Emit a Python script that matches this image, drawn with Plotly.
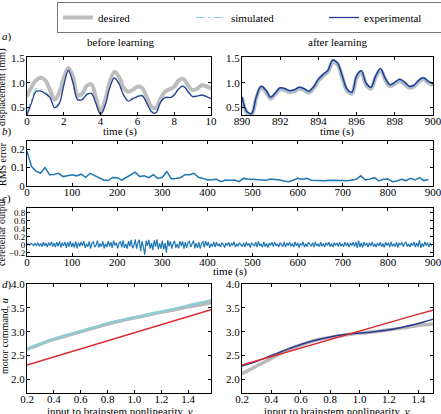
import numpy as np
import plotly.graph_objects as go

# ---------------- data ----------------
t_before = [0, 0.25, 0.5, 0.75, 1.0, 1.25, 1.5, 1.75, 2.0, 2.25, 2.5, 2.75, 3.0, 3.25, 3.5, 3.75,
            4.0, 4.25, 4.5, 4.75, 5.0, 5.25, 5.5, 5.75, 6.0, 6.25, 6.5, 6.75, 7.0, 7.25, 7.5, 7.75,
            8.0, 8.25, 8.5, 8.75, 9.0, 9.25, 9.5, 9.75, 10.0]
desired_before = [0.72, 0.92, 1.05, 1.10, 1.05, 0.85, 0.66, 0.80, 1.10, 1.30, 1.12, 0.75, 0.78, 0.94,
                  0.97, 0.70, 0.42, 0.65, 1.02, 1.22, 1.12, 0.90, 0.82, 0.86, 0.92, 0.90, 0.72, 0.52,
                  0.49, 0.68, 0.82, 0.87, 0.92, 1.05, 1.08, 0.95, 0.85, 0.88, 0.95, 0.93, 0.88]
simulated_before = [0.40, 0.66, 0.88, 0.87, 0.82, 0.72, 0.52, 0.60, 0.97, 1.24, 1.02, 0.69, 0.68, 0.78,
                    0.80, 0.60, 0.39, 0.57, 0.92, 1.09, 0.99, 0.77, 0.65, 0.69, 0.73, 0.75, 0.62, 0.44,
                    0.41, 0.61, 0.71, 0.72, 0.77, 0.89, 0.94, 0.84, 0.74, 0.74, 0.76, 0.73, 0.69]
experimental_before = [0.35, 0.60, 0.83, 0.83, 0.78, 0.70, 0.50, 0.58, 0.95, 1.25, 1.00, 0.66, 0.66, 0.76,
                       0.78, 0.58, 0.36, 0.55, 0.90, 1.10, 0.98, 0.75, 0.63, 0.68, 0.72, 0.74, 0.60, 0.42,
                       0.39, 0.60, 0.70, 0.70, 0.75, 0.88, 0.93, 0.82, 0.72, 0.73, 0.75, 0.72, 0.68]

t_after = [890, 890.25, 890.5, 890.75, 891, 891.25, 891.5, 891.75, 892, 892.25, 892.5, 892.75, 893,
           893.25, 893.5, 893.75, 894, 894.25, 894.5, 894.75, 895, 895.25, 895.5, 895.75, 896, 896.25,
           896.5, 896.75, 897, 897.25, 897.5, 897.75, 898, 898.25, 898.5, 898.75, 899, 899.25, 899.5,
           899.75, 900]
desired_after = [0.70, 0.40, 0.36, 0.69, 0.90, 0.82, 0.68, 0.77, 0.87, 0.85, 0.81, 0.83, 0.88, 0.85,
                 0.80, 0.89, 1.04, 1.14, 1.22, 1.41, 1.37, 1.10, 0.84, 0.78, 1.10, 1.20, 0.96, 0.88,
                 1.11, 1.25, 1.06, 0.93, 0.98, 1.03, 0.98, 0.90, 0.92, 1.02, 1.07, 1.00, 0.95]
simulated_after = [0.71, 0.41, 0.37, 0.71, 0.92, 0.84, 0.70, 0.79, 0.89, 0.87, 0.83, 0.85, 0.90, 0.87,
                   0.82, 0.91, 1.06, 1.16, 1.24, 1.44, 1.39, 1.13, 0.86, 0.80, 1.13, 1.23, 0.98, 0.90,
                   1.13, 1.27, 1.08, 0.95, 1.00, 1.05, 1.00, 0.92, 0.94, 1.04, 1.09, 1.02, 0.97]
experimental_after = [0.72, 0.42, 0.38, 0.72, 0.93, 0.85, 0.71, 0.80, 0.90, 0.88, 0.84, 0.86, 0.91, 0.88,
                      0.83, 0.92, 1.07, 1.17, 1.25, 1.46, 1.40, 1.14, 0.87, 0.81, 1.14, 1.24, 0.99, 0.91,
                      1.14, 1.29, 1.09, 0.96, 1.01, 1.07, 1.02, 0.93, 0.95, 1.05, 1.10, 1.03, 0.98]

rms_time = list(range(0, 900, 10))
rms_error = [0.190, 0.105, 0.080, 0.068, 0.100, 0.060, 0.062, 0.068, 0.050, 0.055,
             0.060, 0.054, 0.063, 0.046, 0.068, 0.055, 0.044, 0.031, 0.028, 0.045,
             0.044, 0.031, 0.045, 0.060, 0.074, 0.050, 0.054, 0.044, 0.060, 0.040,
             0.046, 0.078, 0.037, 0.040, 0.044, 0.060, 0.060, 0.068, 0.046, 0.040,
             0.031, 0.033, 0.035, 0.022, 0.031, 0.030, 0.031, 0.022, 0.040, 0.037,
             0.035, 0.030, 0.028, 0.030, 0.037, 0.035, 0.031, 0.026, 0.022, 0.030,
             0.040, 0.035, 0.040, 0.030, 0.028, 0.028, 0.027, 0.030, 0.028, 0.027,
             0.028, 0.027, 0.030, 0.035, 0.054, 0.031, 0.036, 0.044, 0.026, 0.035,
             0.037, 0.022, 0.026, 0.035, 0.028, 0.040, 0.031, 0.044, 0.028, 0.034]

cerebellar_output = [
    0.01, 0.02, -0.01, 0.03, 0.01, -0.02, 0.04, -0.03, 0.05, -0.04, 0.03, -0.05, 0.06, -0.03, 0.04, -0.06, 0.05, -0.02, 0.07, -0.05,
    0.04, -0.06, 0.06, -0.04, 0.08, -0.07, 0.05, -0.03, 0.07, -0.08, 0.06, -0.05, 0.09, -0.06, 0.04, -0.07, 0.08, -0.09, 0.05, -0.04,
    0.07, -0.03, 0.09, -0.08, 0.02, -0.05, 0.08, -0.10, 0.04, 0.07, -0.06, -0.02, 0.10, -0.07, 0.03, -0.05, 0.08, -0.09, 0.02, -0.06,
    0.09, -0.04, 0.06, -0.08, 0.10, -0.02, 0.05, -0.09, 0.03, 0.08, -0.07, 0.11, -0.08, 0.02, -0.10, 0.09, -0.04, 0.12, -0.09, -0.02,
    0.13, -0.10, 0.05, 0.12, -0.16, 0.09, -0.06, -0.25, 0.10, -0.03, 0.12, -0.10, 0.04, -0.13, 0.11, -0.05, 0.13, -0.11, 0.03, -0.10,
    0.10, -0.12, 0.04, -0.20, 0.11, -0.04, 0.08, -0.10, 0.03, 0.09, -0.08, 0.02, -0.09, 0.09, -0.03, 0.08, -0.10, 0.06, -0.08, 0.05,
    0.08, -0.06, 0.02, 0.10, -0.09, 0.04, -0.08, 0.06, -0.10, 0.03, 0.08, -0.07, 0.09, -0.03, 0.07, -0.08, 0.02, -0.05, 0.07, -0.06,
    0.06, -0.03, 0.02, -0.06, 0.05, 0.01, -0.07, 0.04, -0.02, 0.06, -0.05, 0.03, -0.01, 0.07, -0.06, 0.02, -0.04, 0.05, 0.00, -0.05,
    0.04, -0.06, 0.07, -0.02, 0.03, -0.07, 0.05, 0.01, -0.04, 0.06, -0.06, 0.08, -0.03, 0.02, -0.06, 0.07, -0.05, 0.03, -0.07, 0.04,
    -0.02, 0.06, -0.05, 0.07, -0.03, 0.02, -0.06, 0.05, 0.00, -0.05, 0.07, -0.06, 0.04, -0.02, 0.06, -0.04, 0.03, -0.06, 0.07, -0.03,
    0.05, -0.07, 0.03, -0.02, 0.07, -0.06, 0.02, -0.05, 0.06, 0.01, -0.04, 0.05, -0.06, 0.07, -0.03, 0.02, -0.05, 0.06, -0.04, 0.03,
    -0.06, 0.05, -0.02, 0.06, -0.05, 0.03, -0.06, 0.05, -0.01, 0.04, -0.05, 0.06, -0.04, 0.02, -0.05, 0.06, -0.03, 0.05, -0.06, 0.04,
    -0.02, 0.06, -0.05, 0.07, -0.08, 0.10, -0.06, 0.04, -0.07, 0.06, -0.02, 0.04, -0.06, 0.05, -0.03, 0.07, -0.05, 0.02, -0.06, 0.04,
    -0.03, 0.06, -0.05, 0.03, -0.07, 0.06, -0.02, 0.05, -0.06, 0.07, -0.04, 0.02, -0.05, 0.06, -0.07, 0.04, -0.01, 0.06, -0.05, 0.03,
    0.07, -0.05, 0.02, -0.06, 0.05, -0.03, 0.07, -0.06, 0.04, -0.05, 0.11, -0.08, 0.03, -0.05, 0.07, -0.02, 0.05, -0.06, 0.04, -0.03,
]
cerebellar_time = list(np.arange(len(cerebellar_output)) * 3)

v_left = [0.2, 0.3, 0.4, 0.5, 0.6, 0.7, 0.8, 0.9, 1.0, 1.1, 1.2, 1.3, 1.4, 1.5, 1.57]
u_desired_left = [2.63, 2.74, 2.84, 2.92, 3.00, 3.08, 3.16, 3.23, 3.29, 3.35, 3.41, 3.46, 3.52, 3.57, 3.61]
u_simulated_left = [2.64, 2.75, 2.85, 2.93, 3.01, 3.09, 3.17, 3.24, 3.30, 3.36, 3.42, 3.48, 3.55, 3.61, 3.66]
u_linear_left = [2.30, 2.385, 2.47, 2.555, 2.64, 2.725, 2.81, 2.895, 2.98, 3.065, 3.15, 3.235, 3.32, 3.405, 3.46]

v_right = [0.2, 0.3, 0.4, 0.5, 0.6, 0.7, 0.8, 0.9, 1.0, 1.1, 1.2, 1.3, 1.4, 1.5]
u_desired_right = [2.12, 2.28, 2.44, 2.60, 2.72, 2.82, 2.88, 2.93, 2.97, 3.00, 3.04, 3.08, 3.13, 3.16]
u_experimental_right = [2.28, 2.38, 2.50, 2.62, 2.73, 2.82, 2.89, 2.94, 2.97, 3.00, 3.04, 3.10, 3.17, 3.26]
u_linear_right = [2.30, 2.39, 2.48, 2.57, 2.66, 2.75, 2.84, 2.93, 3.02, 3.11, 3.20, 3.28, 3.37, 3.45]

# ---------------- style ----------------
FONT = "Liberation Serif"
C_DES = "#bdbdbd"
C_SIM = "#8ed3da"
C_EXP = "#2b3b8f"
C_B = "#1f77b4"
C_RED = "#e0262b"

W, H = 441, 414
def px(x): return x / W
def py(y): return 1 - y / H

fig = go.Figure()

# panel a
fig.add_trace(go.Scatter(x=t_before, y=desired_before, mode="lines", line=dict(color=C_DES, width=4, shape="spline"),
                         name="desired", xaxis="x", yaxis="y"))
fig.add_trace(go.Scatter(x=t_before, y=simulated_before, mode="lines", line=dict(color=C_SIM, width=1.2, dash="dashdot", shape="spline"),
                         name="simulated", xaxis="x", yaxis="y"))
fig.add_trace(go.Scatter(x=t_before, y=experimental_before, mode="lines", line=dict(color=C_EXP, width=1.3, shape="spline"),
                         name="experimental", xaxis="x", yaxis="y"))
fig.add_trace(go.Scatter(x=t_after, y=desired_after, mode="lines", line=dict(color=C_DES, width=4, shape="spline"),
                         showlegend=False, xaxis="x2", yaxis="y2"))
fig.add_trace(go.Scatter(x=t_after, y=simulated_after, mode="lines", line=dict(color="#9cc4d8", width=3, shape="spline"),
                         showlegend=False, xaxis="x2", yaxis="y2"))
fig.add_trace(go.Scatter(x=t_after, y=experimental_after, mode="lines", line=dict(color=C_EXP, width=1.5, shape="spline"),
                         showlegend=False, xaxis="x2", yaxis="y2"))
# panel b
fig.add_trace(go.Scatter(x=rms_time, y=rms_error, mode="lines", line=dict(color=C_B, width=1.5),
                         showlegend=False, xaxis="x3", yaxis="y3"))
# panel c
fig.add_trace(go.Scatter(x=cerebellar_time, y=cerebellar_output, mode="lines", line=dict(color=C_B, width=1.2),
                         showlegend=False, xaxis="x4", yaxis="y4"))
# panel d
fig.add_trace(go.Scatter(x=v_left, y=u_desired_left, mode="lines", line=dict(color="#b8b8b8", width=3.5, shape="spline"),
                         showlegend=False, xaxis="x5", yaxis="y5"))
fig.add_trace(go.Scatter(x=v_left, y=u_simulated_left, mode="lines", line=dict(color="#8fcbd3", width=2.5, shape="spline"),
                         showlegend=False, xaxis="x5", yaxis="y5"))
fig.add_trace(go.Scatter(x=v_left, y=u_linear_left, mode="lines", line=dict(color=C_RED, width=1.3),
                         showlegend=False, xaxis="x5", yaxis="y5"))
fig.add_trace(go.Scatter(x=v_right, y=u_desired_right, mode="lines", line=dict(color="#b8b8b8", width=3.5, shape="spline"),
                         showlegend=False, xaxis="x6", yaxis="y6"))
fig.add_trace(go.Scatter(x=v_right, y=u_experimental_right, mode="lines", line=dict(color=C_EXP, width=1.5, shape="spline"),
                         showlegend=False, xaxis="x6", yaxis="y6"))
fig.add_trace(go.Scatter(x=v_right, y=u_linear_right, mode="lines", line=dict(color=C_RED, width=1.3),
                         showlegend=False, xaxis="x6", yaxis="y6"))

ax = dict(showline=True, linecolor="black", linewidth=1, mirror="ticks", ticks="inside", ticklen=3,
          tickcolor="black", showgrid=False, zeroline=False, automargin=False,
          ticklabeloverflow="allow",
          tickfont=dict(family=FONT, size=11, color="black"))
axx = dict(ax, ticklabelstandoff=-4)
axy = dict(ax, ticklabelstandoff=-1)

XL = [px(27), px(211)]
XR = [px(242), px(433)]
XF = [px(27), px(433)]
YA = [py(115), py(57)]
YB = [py(185.7), py(141)]
YC = [py(255.7), py(207.7)]
YD = [py(392.7), py(284)]

fig.update_layout(
    width=W, height=H, margin=dict(l=0, r=0, t=0, b=0, autoexpand=False),
    paper_bgcolor="white", plot_bgcolor="white",
    font=dict(family=FONT, size=11, color="black"),
    xaxis=dict(axx, domain=XL, range=[0, 10], tickvals=[0, 2, 4, 6, 8, 10], anchor="y"),
    yaxis=dict(axy, domain=YA, range=[0.35, 1.52], tickvals=[0.5, 1.0, 1.5], tickformat=".1f", anchor="x"),
    xaxis2=dict(axx, domain=XR, range=[890, 900], tickvals=[890, 892, 894, 896, 898, 900], anchor="y2"),
    yaxis2=dict(axy, domain=YA, range=[0.35, 1.52], tickvals=[0.5, 1.0, 1.5], tickformat=".1f", anchor="x2"),
    xaxis3=dict(axx, domain=XF, range=[0, 900], dtick=100, anchor="y3"),
    yaxis3=dict(axy, domain=YB, range=[0, 0.245], tickvals=[0, 0.1, 0.2], ticktext=["0", "0.1", "0.2"], anchor="x3"),
    xaxis4=dict(axx, domain=XF, range=[0, 900], dtick=100, anchor="y4"),
    yaxis4=dict(axy, domain=YC, range=[-0.275, 0.92], tickvals=[-0.2, 0, 0.2, 0.4, 0.6, 0.8],
                ticktext=["\u22120.2", "0", "0.2", "0.4", "0.6", "0.8"], anchor="x4",
                tickfont=dict(family=FONT, size=9, color="black")),
    xaxis5=dict(axx, domain=XL, range=[0.2, 1.57], tickvals=[0.2, 0.4, 0.6, 0.8, 1.0, 1.2, 1.4], tickformat=".1f", anchor="y5"),
    yaxis5=dict(axy, domain=YD, range=[1.72, 4.0], tickvals=[2.0, 2.5, 3.0, 3.5, 4.0], tickformat=".1f", anchor="x5"),
    xaxis6=dict(axx, domain=XR, range=[0.2, 1.5], tickvals=[0.2, 0.4, 0.6, 0.8, 1.0, 1.2, 1.4], tickformat=".1f", anchor="y6"),
    yaxis6=dict(axy, domain=YD, range=[1.72, 4.0], tickvals=[2.0, 2.5, 3.0, 3.5, 4.0], tickformat=".1f", anchor="x6"),
    legend=dict(orientation="h", x=px(57), y=py(2), xanchor="left", yanchor="top",
                bordercolor="#777777", borderwidth=1, bgcolor="white",
                font=dict(family=FONT, size=11, color="black"),
                entrywidth=88, entrywidthmode="pixels"),
)

def ann(text, x, y, size=11, angle=0, xanchor="center"):
    fig.add_annotation(text=text, x=px(x), y=py(y), xref="paper", yref="paper", showarrow=False,
                       font=dict(family=FONT, size=size, color="black"), textangle=angle,
                       xanchor=xanchor, yanchor="middle")

ann("<i>a</i>)", 0, 37, xanchor="left")
ann("<i>b</i>)", 0, 131, xanchor="left")
ann("<i>c</i>)", 0, 198, xanchor="left")
ann("<i>d</i>)", 0, 284, xanchor="left")
ann("before learning", 120, 42)
ann("after learning", 337, 42)
ann("time (s)", 120, 131)
ann("time (s)", 337, 131)
ann("time (s)", 230, 271)
ann("input to brainstem nonlinearity, <i>v</i>", 120, 411)
ann("input to brainstem nonlinearity, <i>v</i>", 337, 411)
ann("displacement (mm)", 2, 88, size=10, angle=-90)
ann("RMS error", 2, 164, size=10, angle=-90)
ann("cerebellar output", 1, 232, size=10, angle=-90)
ann("motor command, <i>u</i>", 4, 336, size=10, angle=-90)

fig.write_html("out.html")
